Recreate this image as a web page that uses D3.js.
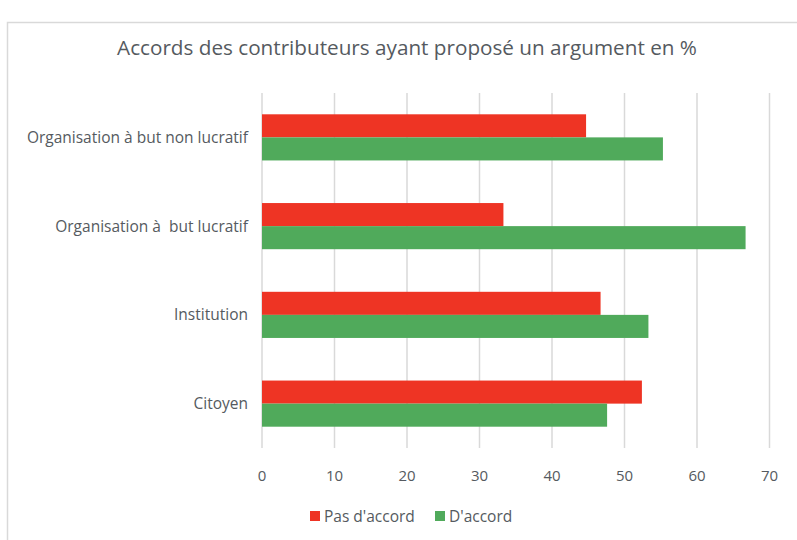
<!DOCTYPE html>
<html><head><meta charset="utf-8">
<script src="https://cdn.jsdelivr.net/npm/d3@7"></script>
<style>body{margin:0;background:#fff}svg{display:block}text{font-family:"Open Sans",sans-serif;fill:#555a60}</style>
</head><body>
<svg id="c" width="797" height="540"></svg>
<script>
const categories = ["Organisation à but non lucratif", "Organisation à  but lucratif", "Institution", "Citoyen"];
const pasAccord = [44.7, 33.3, 46.7, 52.4];
const accord = [55.3, 66.7, 53.3, 47.6];
const seriesNames = ["Pas d'accord", "D'accord"];
const colors = ["#EE3424", "#50AA5B"];
const xTicks = [0, 10, 20, 30, 40, 50, 60, 70];
const title = "Accords des contributeurs ayant proposé un argument en %";

const svg = d3.select("#c");
svg.append("rect").attr("x", 7.5).attr("y", 22.5).attr("width", 800).attr("height", 530)
  .attr("fill", "#fff").attr("stroke", "#d9d9d9").attr("stroke-width", 1.5);

const x = d3.scaleLinear().domain([0, 70]).range([262, 769.5]);
const y = d3.scaleBand().domain(categories).range([93, 448]).paddingInner(0.48).paddingOuter(0.24);
const ySub = d3.scaleBand().domain(seriesNames).range([0, y.bandwidth()]);

svg.append("g").selectAll("line").data(xTicks).join("line")
  .attr("x1", d => x(d)).attr("x2", d => x(d)).attr("y1", 93).attr("y2", 448)
  .attr("stroke", "#d9d9d9").attr("stroke-width", 1.5);

const series = [pasAccord, accord];
series.forEach((vals, si) => {
  svg.append("g").selectAll("rect").data(categories).join("rect")
    .attr("x", x(0)).attr("y", c => y(c) + ySub(seriesNames[si]))
    .attr("width", (c, i) => x(vals[i]) - x(0)).attr("height", ySub.bandwidth())
    .attr("fill", colors[si]);
});

svg.append("g").selectAll("text").data(categories).join("text")
  .attr("x", 248).attr("y", c => y(c) + y.bandwidth() / 2).attr("dy", "0.35em")
  .attr("text-anchor", "end").attr("font-size", 15.5).style("white-space", "pre")
  .text(d => d);

svg.append("g").selectAll("text").data(xTicks).join("text")
  .attr("x", d => x(d)).attr("y", 476).attr("dy", "0.35em")
  .attr("text-anchor", "middle").attr("font-size", 15).text(d => d);

svg.append("text").attr("x", 407).attr("y", 48).attr("dy", "0.35em")
  .attr("text-anchor", "middle").attr("font-size", 20.7).text(title);

const legX = [310, 435];
seriesNames.forEach((n, i) => {
  svg.append("rect").attr("x", legX[i]).attr("y", 511).attr("width", 10).attr("height", 10).attr("fill", colors[i]);
  svg.append("text").attr("x", legX[i] + 14).attr("y", 517).attr("dy", "0.35em").attr("font-size", 15.5).text(n);
});
</script>
</body></html>
